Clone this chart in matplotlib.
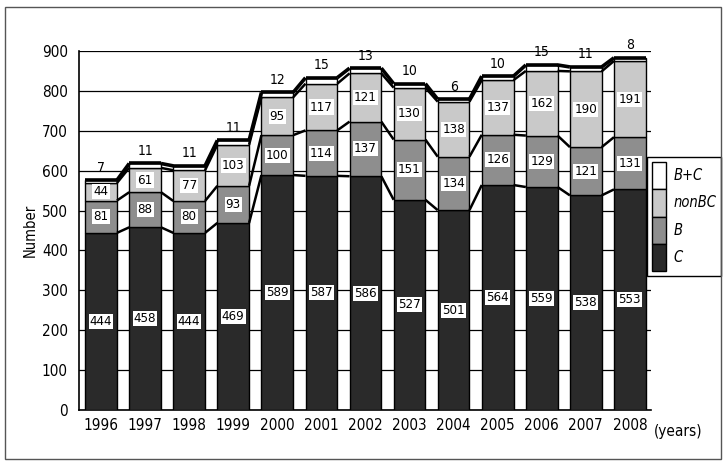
import matplotlib
matplotlib.use("Agg")
import matplotlib.pyplot as plt
from matplotlib.patches import Patch, Rectangle

plt.rcParams["font.family"] = ["DejaVu Sans"]
plt.rcParams["font.stretch"] = "condensed"

years = ["1996", "1997", "1998", "1999", "2000", "2001", "2002",
         "2003", "2004", "2005", "2006", "2007", "2008"]
c_vals = [444, 458, 444, 469, 589, 587, 586, 527, 501, 564, 559, 538, 553]
b_vals = [81, 88, 80, 93, 100, 114, 137, 151, 134, 126, 129, 121, 131]
nonbc_vals = [44, 61, 77, 103, 95, 117, 121, 130, 138, 137, 162, 190, 191]
bc_vals = [7, 11, 11, 11, 12, 15, 13, 10, 6, 10, 15, 11, 8]

COLORS = {"C": "#2a2a2a", "B": "#8e8e8e", "nonBC": "#c9c9c9", "B+C": "white"}
W = 0.72

fig = plt.figure(figsize=(7.24, 4.63), dpi=100)
ax = fig.add_axes([79 / 724, 53 / 463, 572 / 724, 359 / 463])

# outer frame round the whole figure
fig.patches.append(Rectangle((5 / 724, 4 / 463), 716 / 724, 452 / 463,
                             transform=fig.transFigure, fill=False,
                             ec="#555", lw=1.0))

x = list(range(len(years)))
series = [("C", c_vals), ("B", b_vals), ("nonBC", nonbc_vals), ("B+C", bc_vals)]
bottom = [0] * len(years)
levels = []
for name, vals in series:
    ax.bar(x, vals, W, bottom=bottom, color=COLORS[name], edgecolor="black",
           linewidth=1.0, zorder=3)
    bottom = [b + v for b, v in zip(bottom, vals)]
    levels.append(bottom)

# series lines between neighbouring bars, thicker on the top
for k, lev in enumerate(levels):
    top = k == len(levels) - 1
    lw = 2.6 if top else 1.8
    for i in range(len(years) - 1):
        ax.plot([i + W / 2, i + 1 - W / 2], [lev[i], lev[i + 1]],
                color="black", lw=lw, zorder=4, solid_capstyle="butt")
    if top:
        for i in range(len(years)):
            ax.plot([i - W / 2, i + W / 2], [lev[i], lev[i]], color="black",
                    lw=2.6, zorder=4, solid_capstyle="butt")

# value labels inside segments
box = dict(boxstyle="square,pad=0.08", fc="white", ec="none")
base = [0] * len(years)
for name, vals in series[:3]:
    for i, v in enumerate(vals):
        ax.text(i, base[i] + v / 2, str(v), ha="center", va="center",
                fontsize=9.5, bbox=box, zorder=5)
    base = [b + v for b, v in zip(base, vals)]
for i, v in enumerate(bc_vals):
    ax.annotate(str(v), (i, levels[-1][i]), xytext=(0, 4),
                textcoords="offset points", ha="center", va="bottom",
                fontsize=10, zorder=5)

ax.set_xlim(-0.5, 12.48)
ax.set_ylim(0, 900)
ax.set_yticks(range(0, 1000, 100))
ax.set_xticks(x)
ax.set_xticklabels(years, fontsize=11)
ax.tick_params(axis="y", labelsize=11, length=0, pad=8)
ax.tick_params(axis="x", length=0, pad=6)
ax.yaxis.grid(True, color="black", lw=0.9, zorder=0)
ax.set_axisbelow(True)
for s in ("top", "right"):
    ax.spines[s].set_visible(False)
ax.spines["left"].set_linewidth(1.2)
ax.spines["bottom"].set_linewidth(1.2)
ax.set_ylabel("Number", fontsize=10.5, labelpad=3)
ax.text(1.005, -0.04, "(years)", transform=ax.transAxes, fontsize=11,
        ha="left", va="top")

handles = [Patch(fc=COLORS[n], ec="black", lw=1.0) for n in ("B+C", "nonBC", "B", "C")]
leg = ax.legend(handles, ["B+C", "nonBC", "B", "C"], loc="upper left",
                bbox_to_anchor=(647 / 724, 1 - 157 / 463),
                bbox_transform=fig.transFigure, fontsize=10.5,
                handleheight=2.5, handlelength=0.95, labelspacing=0,
                handletextpad=0.5, borderpad=0.35, borderaxespad=0,
                fancybox=False, edgecolor="black", framealpha=1)
for t in leg.get_texts():
    t.set_style("italic")
leg.get_frame().set_linewidth(1.0)
leg.set_zorder(6)

fig.savefig("out.png", dpi=100)
